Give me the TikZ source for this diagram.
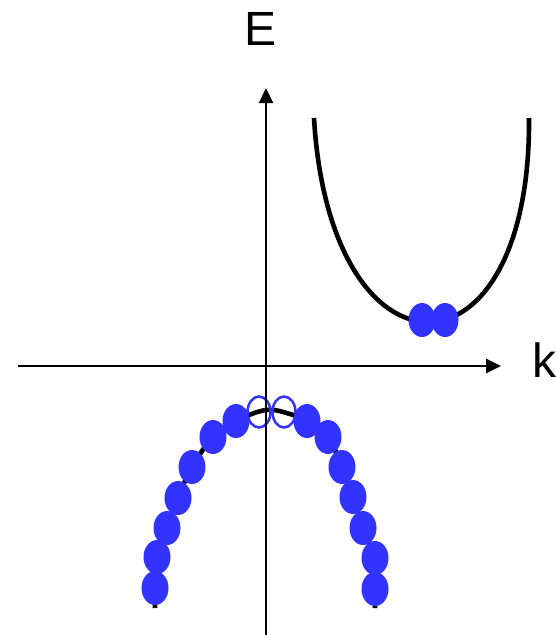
\documentclass[tikz,border=0pt]{standalone}
\usepackage{fontspec}
\setmainfont{Liberation Sans}
\usetikzlibrary{arrows.meta,shapes.geometric}
\definecolor{dotblue}{RGB}{51,51,255}
\tikzset{
  axisline/.style={line width=2.6pt,-{Triangle[length=15pt,width=14pt]}},
  band/.style={line width=4.6pt},
  filleddot/.style={ellipse,fill=dotblue,draw=none,minimum width=27pt,minimum height=34pt,inner sep=0pt},
  emptydot/.style={ellipse,draw=dotblue,line width=2.5pt,fill=none,minimum width=23pt,minimum height=31pt,inner sep=0pt},
  axislabel/.style={anchor=base,inner sep=0pt,font=\fontsize{48}{48}\selectfont}
}
\begin{document}
\begin{tikzpicture}[x=1pt,y=-1pt]
\useasboundingbox (0,0) rectangle (556,635);
% conduction band
\draw[band] (314,118) .. controls (330,390) and (531,390) .. (529,118);
\node[filleddot] (c1) at (422,320) {};
\node[filleddot] (c2) at (445,320) {};
% valence band
\draw[band] plot[smooth,tension=0.6] coordinates {(155,608) (155,588) (157,557) (167,528) (178,498) (192,467) (213,437) (236,421) (266,410) (290,414) (307,421) (328,437) (342,467) (353,497) (363,528) (375,558) (375,589) (375,608)};
\node[filleddot] (v1) at (155,588) {};
\node[filleddot] (v2) at (157,557) {};
\node[filleddot] (v3) at (167,528) {};
\node[filleddot] (v4) at (178,498) {};
\node[filleddot] (v5) at (192,467) {};
\node[filleddot] (v6) at (213,437) {};
\node[filleddot] (v7) at (236,421) {};
\node[emptydot] (h1) at (259,412) {};
\node[emptydot] (h2) at (284,412) {};
\node[filleddot] (v8) at (307,421) {};
\node[filleddot] (v9) at (328,437) {};
\node[filleddot] (v10) at (342,467) {};
\node[filleddot] (v11) at (353,497) {};
\node[filleddot] (v12) at (363,528) {};
\node[filleddot] (v13) at (375,558) {};
\node[filleddot] (v14) at (375,589) {};
% axes
\coordinate (xs) at (18,366);
\coordinate (xe) at (501,366);
\coordinate (ys) at (266,640);
\coordinate (ye) at (266,88);
\draw[axisline] (xs) -- (xe);
\draw[axisline,line width=2.2pt] (ys) -- (ye);
\node[axislabel] (E) at (260.5,45) {E};
\node[axislabel] (k) at (544,377) {k};
\end{tikzpicture}
\end{document}
